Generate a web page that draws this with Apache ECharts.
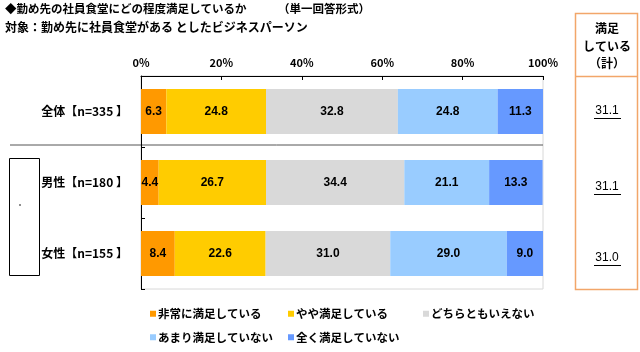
<!DOCTYPE html>
<html>
<head>
<meta charset="utf-8">
<script src="https://cdn.jsdelivr.net/npm/echarts@6/dist/echarts.min.js"></script>
<style>
  html, body { margin: 0; padding: 0; background: #fff; }
  #main { width: 640px; height: 352px; }
</style>
</head>
<body>
<div id="main"></div>
<script>
const categories = ['全体【n=335 】', '男性【n=180 】', '女性【n=155 】'];
const seriesNames = ['非常に満足している', 'やや満足している', 'どちらともいえない', 'あまり満足していない', '全く満足していない'];
const verySatisfied = [6.3, 4.4, 8.4];
const somewhatSatisfied = [24.8, 26.7, 22.6];
const neutral = [32.8, 34.4, 31.0];
const notVerySatisfied = [24.8, 21.1, 29.0];
const notSatisfied = [11.3, 13.3, 9.0];
const satisfiedTotal = [31.1, 31.1, 31.0];
const xTicks = [0, 20, 40, 60, 80, 100];

const colors = ['#FF9900', '#FFCC00', '#D9D9D9', '#99CCFF', '#6699FF'];
const FONT = '"Noto Sans CJK JP", "Noto Sans", sans-serif';
const allValues = [verySatisfied, somewhatSatisfied, neutral, notVerySatisfied, notSatisfied];

const chart = echarts.init(document.getElementById('main'));

const series = seriesNames.map((name, i) => ({
  name: name,
  type: 'bar',
  stack: 'total',
  barWidth: 45,
  itemStyle: { color: colors[i] },
  label: {
    show: true,
    position: 'inside',
    color: '#000',
    fontSize: 12,
    fontWeight: 'bold',
    fontFamily: 'Arial, "Liberation Sans", sans-serif',
    formatter: p => p.value.toFixed(1)
  },
  data: allValues[i]
}));

const legendText = { color: '#000', fontSize: 11.5, fontWeight: 'bold', fontFamily: FONT, padding: [0, 0, 0, -3] };
function makeLegend(left, names) {
  return {
    orient: 'vertical',
    left: left,
    top: 303,
    icon: 'rect',
    itemWidth: 6,
    itemHeight: 6,
    itemGap: 12,
    textStyle: legendText,
    selectedMode: false,
    data: names
  };
}

chart.setOption({
  animation: false,
  textStyle: { fontFamily: FONT },
  legend: [
    makeLegend(145, [seriesNames[0], seriesNames[3]]),
    makeLegend(283, [seriesNames[1], seriesNames[4]]),
    makeLegend(418, [seriesNames[2]])
  ],
  grid: {
    left: 141, right: 97, top: 76, bottom: 63,
    show: true, borderColor: '#d8d8d8', borderWidth: 1
  },
  xAxis: {
    type: 'value',
    position: 'top',
    min: 0, max: 100, interval: 20,
    axisLine: { show: true, lineStyle: { color: '#000' } },
    axisTick: { show: true, inside: true, length: 4, lineStyle: { color: '#000' } },
    splitLine: { show: false },
    axisLabel: {
      color: '#000', fontSize: 11, fontWeight: 'bold', fontFamily: FONT, margin: 8,
      formatter: v => xTicks.includes(v) ? v + '%' : ''
    }
  },
  yAxis: {
    type: 'category',
    inverse: true,
    data: categories,
    axisLine: { show: true, lineStyle: { color: '#000' } },
    axisTick: { show: true, inside: true, length: 4, lineStyle: { color: '#000' } },
    axisLabel: { color: '#000', fontSize: 12, fontWeight: 'bold', fontFamily: FONT, margin: 13 }
  },
  series: series
});

// 枠・右側の「満足している（計）」欄
const yBorder = (chart.convertToPixel({ yAxisIndex: 0 }, categories[0]) + chart.convertToPixel({ yAxisIndex: 0 }, categories[1])) / 2 - 2;
const x100 = chart.convertToPixel({ xAxisIndex: 0 }, 100);
const graphics = [
  { type: 'text', left: 5, top: 3, style: { text: '◆勤め先の社員食堂にどの程度満足しているか', font: 'bold 11.5px ' + FONT, fill: '#000' } },
  { type: 'text', left: 278, top: 3, style: { text: '（単一回答形式）', font: 'bold 11.5px ' + FONT, fill: '#000' } },
  { type: 'text', left: 5, top: 21, style: { text: '対象：勤め先に社員食堂がある としたビジネスパーソン', font: 'bold 12px ' + FONT, fill: '#000' } },
  { type: 'line', shape: { x1: 10, y1: yBorder, x2: x100, y2: yBorder }, style: { stroke: '#555', lineWidth: 1 } },
  { type: 'rect', shape: { x: 9.5, y: 158.5, width: 30, height: 117 }, style: { fill: 'none', stroke: '#000', lineWidth: 1 } },
  { type: 'circle', shape: { cx: 20, cy: 205, r: 0.8 }, style: { fill: '#000' } },
  { type: 'rect', shape: { x: 575.5, y: 13.5, width: 62, height: 276 }, style: { fill: 'none', stroke: '#F2A66A', lineWidth: 1.5 } },
  { type: 'line', shape: { x1: 575.5, y1: 76.5, x2: 637.5, y2: 76.5 }, style: { stroke: '#F2A66A', lineWidth: 1.5 } },
  { type: 'text', x: 607, y: 28, style: { text: '満足', font: 'bold 12px ' + FONT, fill: '#000', align: 'center', verticalAlign: 'middle' } },
  { type: 'text', x: 607, y: 46, style: { text: 'している', font: 'bold 12px ' + FONT, fill: '#000', align: 'center', verticalAlign: 'middle' } },
  { type: 'text', x: 607, y: 63, style: { text: '（計）', font: 'bold 12px ' + FONT, fill: '#000', align: 'center', verticalAlign: 'middle' } }
];
const offsets = [-1, 4, 4];
categories.forEach((c, i) => {
  const cy = chart.convertToPixel({ yAxisIndex: 0 }, c) + offsets[i];
  graphics.push({ type: 'text', x: 607, y: cy, style: { text: satisfiedTotal[i].toFixed(1), font: '12px Arial, "Liberation Sans", sans-serif', fill: '#000', align: 'center', verticalAlign: 'middle' } });
  graphics.push({ type: 'line', shape: { x1: 594, y1: cy + 8, x2: 621, y2: cy + 8 }, style: { stroke: '#000', lineWidth: 1 } });
});
chart.setOption({ graphic: graphics });
</script>
</body>
</html>
